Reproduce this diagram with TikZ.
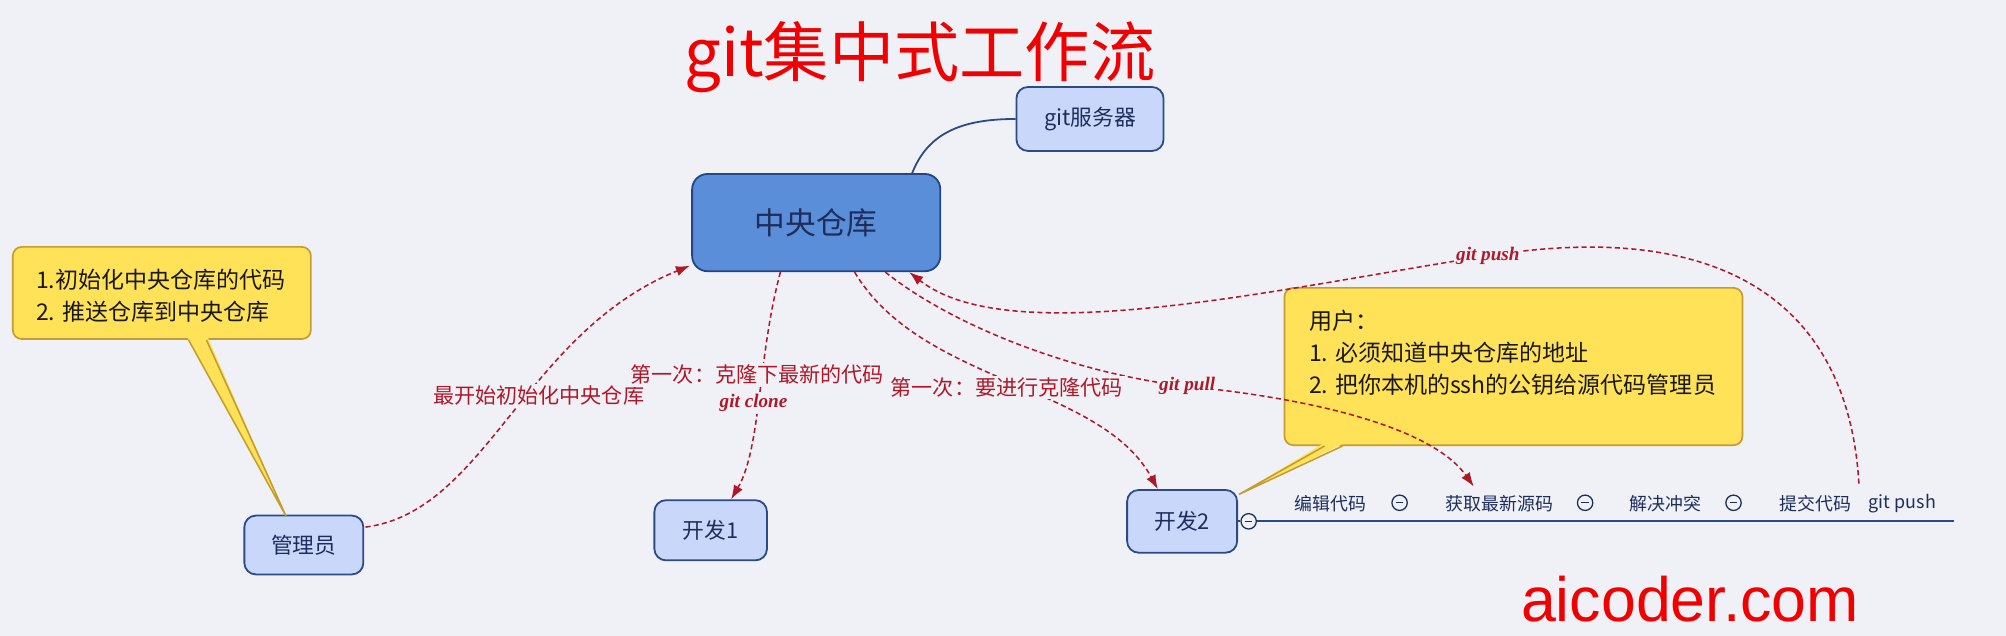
\documentclass[tikz,border=0pt]{standalone}
\usepackage{fontspec}
\newfontfamily\cjk{Noto Sans CJK SC}
\newfontfamily\lsans{Liberation Sans}
\newfontfamily\lserif{Liberation Serif}
\usetikzlibrary{arrows.meta,calc}
\definecolor{bg}{RGB}{240,241,247}
\definecolor{titlered}{RGB}{240,0,0}
\definecolor{linkred}{RGB}{176,24,40}
\definecolor{navy}{RGB}{30,45,92}
\definecolor{nodefill}{RGB}{201,215,250}
\definecolor{nodeline}{RGB}{44,74,134}
\definecolor{cenfill}{RGB}{90,142,216}
\definecolor{cenline}{RGB}{36,70,130}
\definecolor{noteyellow}{RGB}{255,226,88}
\definecolor{noteline}{RGB}{196,156,48}
\definecolor{notetxt}{RGB}{25,25,25}
\begin{document}
\begin{tikzpicture}[x=1pt,y=-1pt,
  box/.style={draw=nodeline, line width=1.4pt, fill=nodefill, rounded corners=9pt, text=navy, font={\cjk\fontsize{17}{20}\selectfont}, inner sep=0pt},
  cenbox/.style={draw=cenline, line width=1.4pt, fill=cenfill, rounded corners=12pt, text=navy, font={\cjk\fontsize{24}{28}\selectfont}, inner sep=0pt},
  note/.style={draw=noteline, line width=1.3pt, fill=noteyellow, rounded corners=7pt, inner sep=0pt},
  notetext/.style={text=notetxt, align=left, font={\cjk\fontsize{18}{25}\selectfont}, inner sep=0pt},
  link/.style={draw=linkred, line width=1.2pt, dash pattern=on 4pt off 2.5pt, -{Latex[length=11pt,width=8pt]}},
  rlabel/.style={text=linkred, fill=bg, font={\cjk\fontsize{16.5}{19}\selectfont}, inner sep=1.5pt},
  glabel/.style={text=linkred, fill=bg, font={\lserif\bfseries\itshape\fontsize{15}{18}\selectfont}, inner sep=1.5pt},
  tltext/.style={text=navy, font={\cjk\fontsize{14}{17}\selectfont}, inner sep=2pt},
  tlline/.style={draw=nodeline, line width=1.4pt},
  mincirc/.style={circle, draw=navy, line width=1pt, fill=bg, minimum size=12pt, inner sep=0pt,
    path picture={\draw[line width=1pt, navy] ([xshift=-3pt]path picture bounding box.center) -- ([xshift=3pt]path picture bounding box.center);}}
]
\path[use as bounding box, fill=bg] (0,0) rectangle (1568,497);

% title
\node[text=titlered, font={\cjk\fontsize{51}{60}\selectfont}, inner sep=0pt] (title) at (719,45) {git集中式工作流};
\node[anchor=base, text=titlered, font={\lsans\fontsize{49}{56}\selectfont}, inner sep=0pt] (site) at (1321,486) {aicoder.com};

% main nodes
\node[box, minimum width=115pt, minimum height=50pt] (srv) at (852,93) {git服务器};
\node[cenbox, minimum width=194pt, minimum height=76pt] (cen) at (638,174) {中央仓库};
\node[box, minimum width=93pt, minimum height=46pt] (admin) at (237.5,426) {管理员};
\node[box, minimum width=88pt, minimum height=47pt] (dev1) at (555.5,414.5) {开发1};
\node[box, minimum width=86pt, minimum height=49pt] (dev2) at (924,407.5) {开发2};

% server connector
\draw[draw=nodeline, line width=1.4pt] ($(cen.north)+(75,0)$) .. controls (725,105) and (750,93) .. (srv.west);

% callout 1
\node[note, minimum width=233pt, minimum height=72pt] (note1) at (126.5,229) {};
\fill[noteyellow] ($(note1.south west)+(137,-2)$) -- ($(admin.north)+(-14,1)$) -- ($(note1.south west)+(153,-2)$) -- cycle;
\draw[noteline, line width=1.2pt, line join=round] ($(note1.south west)+(138,0)$) -- ($(admin.north)+(-14,1)$) -- ($(note1.south west)+(152,0)$);
\node[notetext, anchor=west] (note1t) at (28,231.5) {1.初始化中央仓库的代码\\2. 推送仓库到中央仓库};

% callout 2
\node[note, minimum width=358pt, minimum height=123pt] (note2) at (1183,286.5) {};
\fill[noteyellow] ($(note2.south west)+(31,-2)$) -- ($(dev2.north east)+(1,4)$) -- ($(note2.south west)+(47,-2)$) -- cycle;
\draw[noteline, line width=1.2pt, line join=round] ($(note2.south west)+(32,0)$) -- ($(dev2.north east)+(1,4)$) -- ($(note2.south west)+(46,0)$);
\node[notetext, anchor=west] (note2t) at (1023,276) {用户：\\1. 必须知道中央仓库的地址\\2. 把你本机的ssh的公钥给源代码管理员};

% timeline
\node[mincirc] (c0) at (976,407.5) {};
\coordinate (tlend) at (1527,407.5);
\draw[tlline] (dev2.east) -- (c0.west);
\draw[tlline] (c0.east) -- (tlend);
\node[tltext] (s1) at (1040,394) {编辑代码};
\node[mincirc] (c1) at (1094,393) {};
\node[tltext] (s2) at (1172,394) {获取最新源码};
\node[mincirc] (c2) at (1239,393) {};
\node[tltext] (s3) at (1302,394) {解决冲突};
\node[mincirc] (c3) at (1355,393) {};
\node[tltext] (s4) at (1419,394) {提交代码};
\node[tltext] (s5) at (1487,394) {git push};

% links
\draw[link] ($(admin.east)+(1,-14)$) .. controls (380,400) and (410,260) .. ($(cen.south west)+(-1,-5)$);
\draw[link] ($(cen.south)+(-28,0)$) .. controls (592,280) and (595,350) .. ($(dev1.north)+(16,0)$);
\draw[link] ($(cen.south)+(30,0)$) .. controls (720,300) and (860,300) .. ($(dev2.north)+(-19,0)$);
\coordinate (pullmid) at (928,302);
\draw[link] ($(cen.south)+(54,0)$) .. controls (745,255) and (840,292) .. (pullmid) .. controls (1030,312) and (1120,335) .. ($(s2.north)+(-20,-5)$);
\coordinate (pushsrc) at (1453,378);
\coordinate (pushmid) at (1163,200);
\draw[link] (pushsrc) .. controls (1445,240) and (1350,170) .. (pushmid) .. controls (1000,225) and (790,275) .. ($(cen.south east)+(-25,0)$);

% labels
\node[rlabel] (lab1) at (421,309) {最开始初始化中央仓库};
\node[rlabel] (lab2) at (592,293) {第一次：克隆下最新的代码};
\node[glabel] (lab3) at (589,315) {git clone};
\node[rlabel] (lab4) at (787,303) {第一次：要进行克隆代码};
\node[glabel] (lab5) at (pullmid) {git pull};
\node[glabel] (lab6) at (pushmid) {git push};
\end{tikzpicture}
\end{document}
